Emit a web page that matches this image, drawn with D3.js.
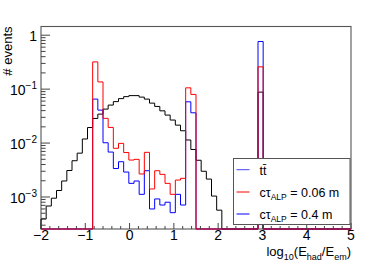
<!DOCTYPE html>
<html>
<head>
<meta charset="utf-8">
<script src="https://cdn.jsdelivr.net/npm/d3@7"></script>
<style>
body { margin: 0; background: #fff; }
svg { display: block; font-family: "Liberation Sans", Arial, Helvetica, sans-serif; }
</style>
</head>
<body>
<div id="chart"></div>
<script>
// histogram binning: 60 equal bins from -2 to 5
var binLow = -2;
var binHigh = 5;
var nBins = 60;

// fraction of events per bin (0 = empty bin)
var ttbar = [
    3.9e-4, 6.8e-4, 9.5e-4, 1.32e-3, 1.98e-3, 3.1e-3, 4.7e-3, 6.5e-3, 1.19e-2, 1.94e-2,
    2.86e-2, 3.44e-2, 4.26e-2, 5.06e-2, 5.87e-2, 6.67e-2, 7.26e-2, 7.58e-2, 7.58e-2, 7.11e-2,
    6.53e-2, 5.5e-2, 4.78e-2, 3.96e-2, 3.3e-2, 2.67e-2, 2.15e-2, 1.69e-2, 1.14e-2, 7.6e-3,
    4.8e-3, 3.0e-3, 2.15e-3, 1.04e-3, 5.7e-4, 0, 0, 0, 0, 0,
    0, 0, 8.8e-2, 0, 0, 0, 0, 0, 0, 0,
    0, 0, 0, 0, 0, 0, 0, 0, 0, 0
];
var alp006 = [
    0, 0, 0, 0, 0, 0, 0, 0, 0, 0,
    0.32, 0.136, 0.0287, 0.0195, 0.0080, 0.00987, 0.00667, 0.00484, 0.00499, 0.00267,
    0.00673, 0.00141, 0.00307, 0.00263, 0.00179, 0.00112, 0.00206, 0.00222, 0.1057, 0.0798,
    0, 0, 0, 0, 0, 0, 0, 0, 0, 0,
    0, 0, 0.259, 0, 0, 0, 0, 0, 0, 0,
    0, 0, 0, 0, 0, 0, 0, 0, 0, 0
];
var alp04 = [
    0, 0, 0, 0, 0, 0, 0, 0, 0, 0,
    0.0653, 0.0408, 0.01013, 0.00681, 0.00337, 0.00451, 0.0029, 0.00179, 0.00198, 0.00112,
    0.00307, 0.0006, 0.00092, 0.00071, 0.0008, 0.000512, 0.00112, 0.00071, 0.0582, 0.0364,
    0, 0, 0, 0, 0, 0, 0, 0, 0, 0,
    0, 0, 0.764, 0, 0, 0, 0, 0, 0, 0,
    0, 0, 0, 0, 0, 0, 0, 0, 0, 0
];

// axis ticks
var xTicks = [-2, -1, 0, 1, 2, 3, 4, 5];
var xTickLabels = ["\u22122", "\u22121", "0", "1", "2", "3", "4", "5"];
var yTicks = [1e-3, 1e-2, 1e-1, 1];
var yTickExp = ["\u22123", "\u22122", "\u22121", null];

// svg size and frame
var svgWidth = 390;
var svgHeight = 264;
var frame = { left: 41, right: 351, top: 26.5, bottom: 229 };

var svg = d3.select("#chart")
    .append("svg")
    .attr("width", svgWidth)
    .attr("height", svgHeight);

svg.append("rect")
    .attr("width", svgWidth)
    .attr("height", svgHeight)
    .attr("fill", "#fff");

var x = d3.scaleLinear()
    .domain([binLow, binHigh])
    .range([frame.left, frame.right]);

var y = d3.scaleLog()
    .domain([2.55e-4, 1.45])
    .range([frame.bottom, frame.top]);

var binWidth = (binHigh - binLow) / nBins;

// frame box
svg.append("rect")
    .attr("x", frame.left)
    .attr("y", frame.top)
    .attr("width", frame.right - frame.left)
    .attr("height", frame.bottom - frame.top)
    .attr("fill", "none")
    .attr("stroke", "#555")
    .attr("stroke-width", 1.1);

// step outline like ROOT "hist" option, empty bins go down to the axis
function stepPath(values) {
    var p = d3.path();
    p.moveTo(x(binLow), frame.bottom);
    values.forEach(function (v, i) {
        var yy = v > 0 ? y(v) : frame.bottom;
        p.lineTo(x(binLow + i * binWidth), yy);
        p.lineTo(x(binLow + (i + 1) * binWidth), yy);
    });
    p.lineTo(x(binHigh), frame.bottom);
    return p.toString();
}

var series = [
    { values: ttbar, color: "#000" },
    { values: alp04, color: "#0000ff" },
    { values: alp006, color: "#ff0000" }
];

svg.append("g")
    .selectAll("path")
    .data(series)
    .enter()
    .append("path")
    .attr("d", d => stepPath(d.values))
    .attr("fill", "none")
    .attr("stroke", d => d.color)
    .attr("stroke-width", 1);

// ticks, drawn inside the frame
var tickColor = "#444";
var ticks = svg.append("g").attr("stroke", tickColor).attr("stroke-width", 1);

// x ticks: major each unit, minor every 0.2
d3.range(binLow, binHigh + 0.001, 0.2).forEach(function (t) {
    var major = Math.abs(t - Math.round(t)) < 1e-6;
    ticks.append("line")
        .attr("x1", x(t)).attr("x2", x(t))
        .attr("y1", frame.bottom)
        .attr("y2", frame.bottom - (major ? 6 : 3));
});

// y ticks: decades and 2..9 in between
var yDom = y.domain();
for (var e = -4; e <= 0; e++) {
    for (var m = 1; m <= 9; m++) {
        var v = m * Math.pow(10, e);
        if (v < yDom[0] || v > yDom[1]) continue;
        ticks.append("line")
            .attr("x1", frame.left)
            .attr("x2", frame.left + (m === 1 ? 9 : 4.6))
            .attr("y1", y(v)).attr("y2", y(v));
    }
}

// tick labels
svg.append("g")
    .selectAll("text")
    .data(xTicks)
    .enter()
    .append("text")
    .attr("x", d => x(d))
    .attr("y", 240)
    .attr("text-anchor", "middle")
    .attr("font-size", 14)
    .attr("fill", "#000")
    .text((d, i) => xTickLabels[i]);

var yLabels = svg.append("g");
yTicks.forEach(function (t, i) {
    var txt = yLabels.append("text")
        .attr("x", 37)
        .attr("y", y(t) + 6)
        .attr("text-anchor", "end")
        .attr("font-size", 14)
        .attr("fill", "#000");
    if (yTickExp[i] === null) {
        txt.text("1");
    } else {
        txt.append("tspan").text("10");
        txt.append("tspan")
            .attr("dy", -6)
            .attr("font-size", 10)
            .text(yTickExp[i]);
    }
});

// axis titles
var xTitle = svg.append("text")
    .attr("x", frame.right)
    .attr("y", 255.5)
    .attr("text-anchor", "end")
    .attr("font-size", 13)
    .attr("fill", "#000");
xTitle.append("tspan").text("log");
xTitle.append("tspan").attr("font-size", 9).attr("dy", 4).text("10");
xTitle.append("tspan").attr("dy", -4).text("(E");
xTitle.append("tspan").attr("font-size", 9).attr("dy", 4).text("had");
xTitle.append("tspan").attr("dy", -4).text("/E");
xTitle.append("tspan").attr("font-size", 9).attr("dy", 4).text("em");
xTitle.append("tspan").attr("dy", -4).text(")");

svg.append("text")
    .attr("transform", "translate(12," + (frame.top) + ") rotate(-90)")
    .attr("text-anchor", "end")
    .attr("font-size", 13)
    .attr("fill", "#000")
    .text("# events");

// legend
var legend = svg.append("g");
legend.append("rect")
    .attr("x", 233.5)
    .attr("y", 158.5)
    .attr("width", 116.5)
    .attr("height", 66)
    .attr("fill", "#fff")
    .attr("stroke", "#555")
    .attr("stroke-width", 1);

var legendRows = [
    { y: 169.7, color: "#4444ee", main: "tt\u0304", sub: null, rest: "" },
    { y: 192, color: "#ff0000", main: "c\u03c4", sub: "ALP", rest: " = 0.06 m" },
    { y: 214, color: "#0000ff", main: "c\u03c4", sub: "ALP", rest: " = 0.4 m" }
];

legendRows.forEach(function (r) {
    legend.append("line")
        .attr("x1", 236.5).attr("x2", 249.5)
        .attr("y1", r.y).attr("y2", r.y)
        .attr("stroke", r.color)
        .attr("stroke-width", 1);
    var t = legend.append("text")
        .attr("x", 259.5)
        .attr("y", r.y + 5)
        .attr("font-size", 12.5)
        .attr("fill", "#000");
    t.append("tspan").text(r.main);
    if (r.sub) {
        t.append("tspan").attr("font-size", 8.5).attr("dy", 3).text(r.sub);
        t.append("tspan").attr("dy", -3).text(r.rest);
    }
});
</script>
</body>
</html>
